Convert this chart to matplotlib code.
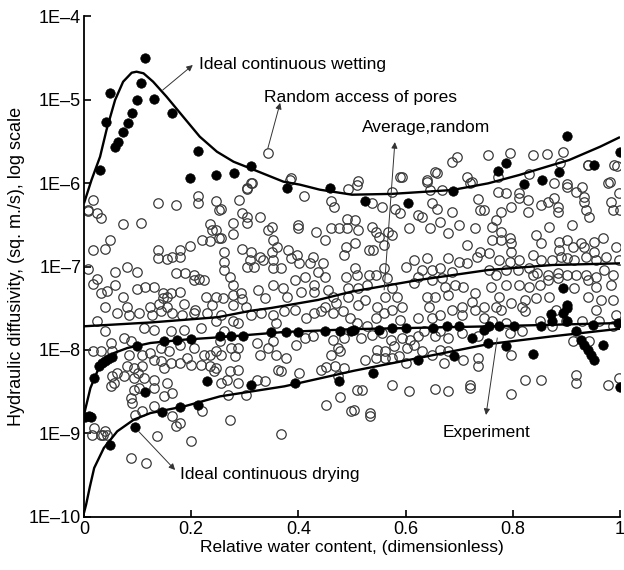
import numpy as np
import matplotlib
matplotlib.use("Agg")
import matplotlib.pyplot as plt
from matplotlib.ticker import FixedLocator, NullLocator

plt.rcParams['font.family'] = ['Liberation Sans', 'DejaVu Sans']

# ---- curves (x, log10 of diffusivity) ----
wet_x = [0, 0.014, 0.030, 0.042, 0.058, 0.073, 0.089, 0.098, 0.111, 0.129, 0.154, 0.185,
         0.216, 0.248, 0.279, 0.310, 0.341, 0.372, 0.403, 0.440, 0.5, 0.575, 0.687, 0.754,
         0.812, 0.874, 0.905, 0.963, 1.0]
wet_log = [-6.243, -5.964, -5.685, -5.365, -5.006, -4.787, -4.679, -4.667, -4.686, -4.787,
           -4.966, -5.206, -5.445, -5.625, -5.745, -5.824, -5.904, -5.984, -6.02, -6.08,
           -6.14, -6.13, -6.084, -6.004, -5.904, -5.784, -5.725, -5.565, -5.45]

avg_x = [0, 0.125, 0.25, 0.311, 0.349, 0.437, 0.5, 0.624, 0.754, 0.874, 1.0]
avg_log = [-7.716, -7.67, -7.607, -7.53, -7.497, -7.40, -7.30, -7.162, -7.042, -6.982, -6.962]

exp_x = [0, 0.012, 0.025, 0.037, 0.056, 0.081, 0.124, 0.187, 0.254, 0.374, 0.504, 0.754, 1.0]
exp_log = [-8.775, -8.455, -8.255, -8.135, -8.036, -7.976, -7.916, -7.876, -7.847, -7.784,
           -7.75, -7.717, -7.677]

dry_x = [0, 0.004, 0.011, 0.019, 0.037, 0.062, 0.093, 0.124, 0.187, 0.254, 0.374, 0.504,
         0.624, 0.754, 0.874, 1.0]
dry_log = [-9.95, -9.85, -9.637, -9.413, -9.174, -8.974, -8.834, -8.755, -8.675, -8.555,
           -8.435, -8.248, -8.096, -7.93, -7.836, -7.745]

# ---- filled (experimental) points ----
fill_x = [0.114, 0.049, 0.041, 0.030, 0.058, 0.064, 0.073, 0.083, 0.090, 0.098, 0.106, 0.131,
          0.164, 0.213, 0.198, 0.246, 0.279, 0.312, 0.378, 0.459, 0.524, 0.605, 0.689, 0.772,
          0.787, 0.820, 0.854, 0.887, 0.902, 0.951, 1.0,
          0.002, 0.009, 0.014, 0.019, 0.028, 0.034, 0.039, 0.045, 0.052, 0.098, 0.149, 0.174,
          0.199, 0.253, 0.274, 0.297, 0.349, 0.377, 0.399, 0.450, 0.478, 0.498,
          0.114, 0.096, 0.049, 0.146, 0.180, 0.213, 0.229, 0.311, 0.394, 0.475,
          0.503, 0.550, 0.575, 0.600, 0.652, 0.677, 0.699, 0.724, 0.746,
          0.540, 0.624, 0.690,
          0.756, 0.775, 0.803, 0.853, 0.874, 0.902, 0.918, 0.949, 0.996,
          0.893, 0.871, 0.902, 0.927, 0.933, 0.940, 0.946, 0.952, 0.968, 0.837, 0.787, 0.753,
          1.0, 0.893, 0.902]
fill_log = [-4.507, -4.926, -5.266, -5.844, -5.565, -5.505, -5.386, -5.286, -5.166, -5.006,
            -4.80, -4.994, -5.166, -5.613, -5.94, -5.904, -5.876, -5.796, -6.063, -6.056,
            -6.216, -6.243, -6.092, -5.853, -5.764, -6.016, -5.964, -5.864, -5.437, -5.784,
            -5.625,
            -8.80, -8.794, -8.80, -8.335, -8.196, -8.16, -8.135, -8.11, -8.088, -7.956, -7.888,
            -7.876, -7.864, -7.836, -7.836, -7.836, -7.79, -7.79, -7.79, -7.77, -7.77, -7.77,
            -8.503, -8.926, -9.14, -8.742, -8.686, -8.655, -8.375, -8.415, -8.395, -8.367,
            -7.756, -7.756, -7.737, -7.737, -7.737, -7.717, -7.717, -7.856, -7.756,
            -8.275, -8.116, -8.076,
            -7.717, -7.717, -7.717, -7.717, -7.657, -7.657, -7.776, -7.697, -7.677,
            -7.557, -7.57, -7.497, -7.876, -7.936, -7.996, -8.056, -8.116, -7.936, -8.048,
            -7.956, -7.916, -8.447, -7.26, -7.46]

# ---- open (random model) points ----
open_x = [
    # region 1
    0.016, 0.007, 0.025, 0.032, 0.073, 0.107, 0.138, 0.172, 0.213, 0.213, 0.246, 0.252, 0.236,
    0.239, 0.246, 0.252, 0.221, 0.236, 0.049, 0.040, 0.017, 0.138, 0.138, 0.154, 0.165, 0.180,
    0.180, 0.197, 0.007, 0.024, 0.017, 0.057, 0.081, 0.098, 0.057, 0.032, 0.042, 0.073, 0.098,
    0.114, 0.131, 0.148, 0.148, 0.163, 0.180, 0.155, 0.172, 0.188, 0.205, 0.215, 0.224, 0.205,
    0.227, 0.246, 0.040, 0.081, 0.124, 0.140, 0.155, 0.187, 0.208, 0.239,
    # region 2
    0.387, 0.410, 0.312, 0.305, 0.289, 0.255, 0.295, 0.305, 0.305, 0.328, 0.278, 0.278, 0.255,
    0.343, 0.351, 0.353, 0.361, 0.399, 0.399, 0.433, 0.450, 0.461, 0.475, 0.491, 0.491, 0.461,
    0.466, 0.493, 0.262, 0.262, 0.262, 0.272, 0.278, 0.295, 0.312, 0.309, 0.328, 0.305, 0.318,
    0.334, 0.350, 0.353, 0.353, 0.368, 0.381, 0.386, 0.398, 0.402, 0.421, 0.427, 0.437, 0.446,
    0.449, 0.412, 0.393, 0.430, 0.353, 0.371, 0.325, 0.278, 0.292, 0.295, 0.337, 0.379, 0.405,
    0.429, 0.455, 0.465, 0.489, 0.493, 0.493, 0.486, 0.489, 0.259, 0.278, 0.303, 0.471, 0.449,
    # region 3
    0.687, 0.659, 0.590, 0.640, 0.715, 0.721, 0.512, 0.509, 0.575, 0.646, 0.668, 0.736, 0.537,
    0.556, 0.581, 0.590, 0.624, 0.631, 0.649, 0.659, 0.665, 0.687, 0.739, 0.746, 0.699, 0.680,
    0.730, 0.606, 0.646, 0.506, 0.512, 0.537, 0.544, 0.568, 0.575, 0.559, 0.550, 0.506, 0.531,
    0.540, 0.715, 0.739, 0.733, 0.615, 0.640, 0.680, 0.699, 0.715, 0.600, 0.631, 0.649, 0.665,
    0.687, 0.559, 0.506, 0.509, 0.531, 0.544, 0.565, 0.528, 0.512, 0.575, 0.615, 0.624, 0.649,
    0.668, 0.674, 0.693, 0.708, 0.730, 0.724, 0.680, 0.655, 0.640, 0.584, 0.562, 0.593, 0.643,
    0.705, 0.525, 0.512, 0.547, 0.746,
    # region 4
    0.772, 0.830, 0.940, 0.989, 0.877, 0.902, 0.902, 0.977, 0.930, 0.918, 0.772, 0.787, 0.812,
    0.812, 0.828, 0.853, 0.865, 0.877, 0.884, 0.884, 0.933, 0.933, 0.937, 0.943, 0.983, 0.986,
    1.0, 0.999, 0.797, 0.778, 0.828, 0.769, 0.762, 0.778, 0.778, 0.762, 0.794, 0.797, 0.797,
    0.868, 0.910, 0.843, 0.853, 0.887, 0.902, 0.912, 0.887, 0.927, 0.933, 0.952, 0.968, 0.952,
    0.993, 0.756, 0.775, 0.794, 0.812, 0.837, 0.853, 0.874, 0.890, 0.902, 0.915, 0.937, 0.955,
    0.974, 0.999, 0.756, 0.769, 0.787, 0.809, 0.831, 0.837, 0.846, 0.865, 0.884, 0.902, 0.918,
    0.937, 0.955, 0.971, 0.986, 0.759, 0.787, 0.812, 0.831, 0.850, 0.865, 0.884, 0.915, 0.940,
    0.955, 0.983, 0.775, 0.797, 0.822, 0.843, 0.868, 0.940, 0.965, 0.986, 0.769, 0.818,
    # region 5
    0.025, 0.040, 0.062, 0.084, 0.103, 0.127, 0.143, 0.165, 0.183, 0.205, 0.230, 0.246, 0.112,
    0.131, 0.162, 0.187, 0.218, 0.050, 0.075, 0.087, 0.016, 0.031, 0.053, 0.084, 0.109, 0.124,
    0.143, 0.159, 0.180, 0.205, 0.224, 0.246, 0.093, 0.109, 0.081, 0.131, 0.143, 0.162, 0.149,
    0.180, 0.193, 0.199, 0.218, 0.236, 0.243, 0.062, 0.053, 0.075, 0.093, 0.100, 0.112, 0.056,
    0.050, 0.131, 0.131, 0.155, 0.149, 0.165, 0.093, 0.103, 0.087, 0.090, 0.019, 0.031, 0.040,
    0.096, 0.109, 0.131, 0.165, 0.171, 0.180, 0.137, 0.221, 0.199, 0.087, 0.115, 0.246, 0.236,
    # region 6
    0.256, 0.278, 0.287, 0.312, 0.331, 0.353, 0.359, 0.374, 0.393, 0.415, 0.430, 0.443, 0.465,
    0.483, 0.496, 0.262, 0.253, 0.275, 0.287, 0.281, 0.322, 0.328, 0.343, 0.353, 0.359, 0.377,
    0.396, 0.412, 0.427, 0.465, 0.486, 0.474, 0.461, 0.477, 0.256, 0.287, 0.272, 0.266, 0.256,
    0.287, 0.303, 0.269, 0.322, 0.337, 0.362, 0.368, 0.402, 0.443, 0.452, 0.468, 0.486, 0.474,
    0.477, 0.452, 0.499, 0.272, 0.368,
    # region 7
    0.509, 0.528, 0.544, 0.559, 0.575, 0.590, 0.624, 0.649, 0.665, 0.687, 0.705, 0.730, 0.746,
    0.516, 0.537, 0.556, 0.572, 0.593, 0.609, 0.624, 0.634, 0.655, 0.665, 0.680, 0.705, 0.736,
    0.547, 0.562, 0.578, 0.587, 0.603, 0.615, 0.631, 0.649, 0.665, 0.680, 0.708, 0.736, 0.736,
    0.671, 0.600, 0.525, 0.544, 0.562, 0.575, 0.509, 0.519, 0.575, 0.606, 0.655, 0.680, 0.721,
    0.721, 0.503, 0.534, 0.534,
    # region 8
    0.778, 0.822, 0.881, 0.955, 0.993, 0.762, 0.787, 0.850, 0.874, 0.899, 0.930, 0.961, 0.986,
    0.794, 0.818, 0.912, 0.943, 0.797, 0.822, 0.853, 0.918, 0.918, 0.977, 0.999, 0.797,
    # top band
    0.343, 0.384, 0.313, 0.304, 0.008, 0.695, 0.754, 0.795, 0.838, 0.863, 0.894, 0.888, 0.940,
    0.994, 0.593, 0.655, 0.640, 0.724, 0.981, 0.015, 0.035, 0.042,
]
open_log = [
    # region 1
    -6.204, -6.332, -6.364, -6.424, -6.491, -6.475, -6.236, -6.264, -6.156, -6.236, -6.212,
    -6.324, -6.491, -6.563, -6.563, -6.663, -6.683, -6.691, -6.683, -6.795, -6.803, -6.803,
    -6.903, -6.911, -6.891, -6.803, -6.883, -6.755, -7.034, -7.154, -7.210, -7.062, -7.002,
    -7.062, -7.222, -7.322, -7.290, -7.370, -7.270, -7.250, -7.242, -7.314, -7.382, -7.314,
    -7.310, -7.370, -7.074, -7.082, -7.102, -7.154, -7.162, -7.162, -7.370, -7.370, -7.482,
    -7.482, -7.482, -7.450, -7.482, -7.450, -7.522, -7.462,
    # region 2
    -5.945, -6.156, -5.996, -6.076, -6.204, -6.316, -6.356, -6.404, -6.484, -6.412, -6.484,
    -6.611, -6.663, -6.563, -6.523, -6.683, -6.771, -6.503, -6.543, -6.583, -6.683, -6.543,
    -6.543, -6.543, -6.436, -6.212, -6.284, -6.076, -6.823, -6.943, -7.042, -7.122, -7.222,
    -6.795, -6.823, -6.923, -6.883, -7.002, -7.002, -6.923, -6.823, -6.923, -7.022, -7.022,
    -6.803, -6.903, -6.863, -6.963, -6.963, -6.883, -7.062, -6.963, -7.122, -7.122, -7.162,
    -7.222, -7.222, -7.262, -7.282, -7.342, -7.322, -7.394, -7.382, -7.362, -7.302, -7.302,
    -7.282, -7.362, -7.122, -7.262, -7.362, -6.863, -6.763, -7.382, -7.462, -7.482, -7.442,
    -7.482,
    # region 3
    -5.745, -5.877, -5.933, -5.965, -5.925, -5.996, -5.972, -6.024, -6.104, -6.084, -6.084,
    -6.196, -6.244, -6.284, -6.316, -6.364, -6.384, -6.404, -6.244, -6.316, -6.464, -6.344,
    -6.324, -6.324, -6.503, -6.595, -6.543, -6.543, -6.543, -6.444, -6.563, -6.523, -6.583,
    -6.583, -6.623, -6.743, -6.651, -6.723, -6.803, -6.803, -6.743, -6.823, -6.883, -6.923,
    -6.903, -6.903, -6.943, -6.963, -7.002, -7.042, -7.042, -7.022, -7.062, -7.022, -7.022,
    -7.102, -7.102, -7.102, -7.142, -7.222, -7.262, -7.262, -7.202, -7.122, -7.162, -7.142,
    -7.242, -7.222, -7.242, -7.322, -7.422, -7.342, -7.362, -7.362, -7.362, -7.362, -7.482,
    -7.482, -7.482, -7.402, -7.462, -7.482, -7.482,
    # region 4
    -5.925, -5.893, -5.785, -5.785, -6.004, -6.012, -6.044, -6.004, -6.052, -6.104, -6.104,
    -6.124, -6.124, -6.184, -6.204, -6.264, -6.224, -6.184, -6.284, -6.344, -6.164, -6.224,
    -6.324, -6.404, -6.224, -6.324, -6.324, -6.124, -6.284, -6.344, -6.344, -6.444, -6.523,
    -6.583, -6.683, -6.683, -6.663, -6.723, -6.823, -6.523, -6.503, -6.623, -6.723, -6.703,
    -6.683, -6.763, -6.803, -6.723, -6.763, -6.703, -6.663, -6.823, -6.763, -6.843, -6.923,
    -6.943, -6.923, -6.863, -6.923, -6.923, -6.883, -6.903, -6.923, -6.883, -6.923, -6.883,
    -6.923, -7.042, -7.102, -7.042, -7.042, -7.022, -7.102, -7.082, -7.102, -7.082, -7.102,
    -7.102, -7.102, -7.122, -7.042, -7.102, -7.242, -7.222, -7.222, -7.242, -7.222, -7.162,
    -7.142, -7.262, -7.162, -7.242, -7.222, -7.362, -7.442, -7.402, -7.382, -7.362, -7.362,
    -7.402, -7.402, -7.482, -7.482,
    # region 5
    -7.649, -7.776, -7.557, -7.577, -7.557, -7.577, -7.537, -7.557, -7.577, -7.557, -7.557,
    -7.657, -7.737, -7.756, -7.776, -7.756, -7.737, -7.916, -7.856, -7.896, -8.016, -8.016,
    -8.016, -8.056, -8.056, -8.036, -7.976, -8.016, -7.936, -7.976, -8.056, -8.016, -8.216,
    -8.196, -8.196, -8.116, -8.136, -8.156, -8.216, -8.156, -8.096, -8.176, -8.176, -8.196,
    -8.256, -8.275, -8.315, -8.315, -8.335, -8.275, -8.335, -8.395, -8.435, -8.355, -8.455,
    -8.395, -8.555, -8.515, -8.475, -8.455, -8.575, -8.635, -8.934, -9.014, -8.974, -8.774,
    -8.735, -8.675, -8.794, -8.914, -8.874, -9.034, -8.735, -9.094, -9.293, -9.353, -8.216,
    -8.056,
    # region 6
    -7.577, -7.657, -7.677, -7.577, -7.557, -7.577, -7.677, -7.537, -7.517, -7.617, -7.557,
    -7.537, -7.557, -7.537, -7.617, -7.776, -7.896, -7.976, -7.976, -8.076, -7.916, -8.056,
    -7.976, -7.896, -8.056, -8.096, -7.936, -7.856, -7.836, -7.876, -7.856, -7.976, -8.056,
    -8.016, -8.056, -8.236, -8.255, -8.355, -8.395, -8.395, -8.535, -8.535, -8.355, -8.375,
    -8.236, -8.255, -8.275, -8.236, -8.208, -8.196, -8.216, -8.315, -8.567, -8.655, -8.735,
    -8.834, -9.006,
    # region 7
    -7.677, -7.717, -7.617, -7.557, -7.517, -7.637, -7.617, -7.617, -7.577, -7.517, -7.577,
    -7.517, -7.617, -7.856, -7.816, -7.796, -7.876, -7.856, -7.876, -7.836, -7.776, -7.836,
    -7.776, -7.856, -7.796, -7.836, -7.996, -8.016, -7.956, -8.076, -7.976, -7.936, -8.016,
    -8.056, -7.996, -8.016, -8.116, -8.096, -8.196, -8.156, -8.156, -8.116, -8.096, -8.096,
    -8.096, -8.475, -8.475, -8.415, -8.487, -8.467, -8.487, -8.415, -8.455, -8.715, -8.754,
    -8.794,
    # region 8
    -7.517, -7.537, -7.517, -7.517, -7.577, -7.657, -7.677, -7.657, -7.717, -7.657, -7.657,
    -7.657, -7.717, -7.796, -7.776, -7.896, -7.896, -8.056, -8.355, -8.355, -8.295, -8.395,
    -8.415, -8.335, -8.527,
    # top band
    -5.64, -5.964, -6.0, -6.06, -6.32, -5.69, -5.66, -5.64, -5.67, -5.65, -5.63, -5.76, -5.78,
    -5.80, -5.93, -5.87, -5.99, -5.99, -5.99, -9.02, -9.02, -9.02,
]

x_ticks = [0, 0.2, 0.4, 0.6, 0.8, 1]
x_tick_labels = ["0", "0.2", "0.4", "0.6", "0.8", "1"]
y_ticks = [1e-10, 1e-9, 1e-8, 1e-7, 1e-6, 1e-5, 1e-4]
y_tick_labels = ["1E\u201310", "1E\u20139", "1E\u20138", "1E\u20137", "1E\u20136", "1E\u20135", "1E\u20134"]


def tv(v):
    return 10.0 ** np.asarray(v, dtype=float)


fig = plt.figure(figsize=(6.24, 5.70), dpi=100)
ax = fig.add_axes([0.1346, 0.0930, 0.8590, 0.8789])
ax.set_yscale('log')
ax.set_xlim(0, 1)
ax.set_ylim(1e-10, 1e-4)

ax.plot(open_x, tv(open_log), linestyle='none', marker='o', markersize=6.8,
        markerfacecolor='none', markeredgecolor='#3a3a3a', markeredgewidth=0.9, zorder=2)
ax.plot(fill_x, tv(fill_log), linestyle='none', marker='o', markersize=6.8,
        markerfacecolor='black', markeredgecolor='black', markeredgewidth=0.5, zorder=3)

for cx, cl in [(wet_x, wet_log), (avg_x, avg_log), (exp_x, exp_log), (dry_x, dry_log)]:
    ax.plot(cx, tv(cl), color='black', linewidth=1.7, zorder=4, solid_capstyle='butt')

for s in ['top', 'right']:
    ax.spines[s].set_visible(False)
for s in ['left', 'bottom']:
    ax.spines[s].set_linewidth(1.3)

ax.xaxis.set_major_locator(FixedLocator(x_ticks))
ax.set_xticklabels(x_tick_labels)
ax.yaxis.set_major_locator(FixedLocator(y_ticks))
ax.yaxis.set_minor_locator(NullLocator())
ax.set_yticklabels(y_tick_labels)
ax.tick_params(axis='both', direction='in', length=5, width=1.2, labelsize=13, pad=3)
ax.tick_params(axis='y', pad=2)

ax.set_xlabel("Relative water content, (dimensionless)", fontsize=12.5, labelpad=1)
ax.set_ylabel("Hydraulic diffusivity, (sq. m./s), log scale", fontsize=13, labelpad=3)

arrow = dict(arrowstyle='-|>', color='#333333', lw=0.7, mutation_scale=9,
             shrinkA=0, shrinkB=0)
fs = 12.5
ax.annotate("", xy=(0.203, 10**-4.587), xytext=(0.147, 10**-4.886), arrowprops=arrow, zorder=5)
ax.text(0.214, 10**-4.575, "Ideal continuous wetting", fontsize=fs, va='center', ha='left')

ax.annotate("", xy=(0.366, 10**-5.04), xytext=(0.343, 10**-5.585), arrowprops=arrow, zorder=5)
ax.text(0.336, 10**-4.97, "Random access of pores", fontsize=fs, va='center', ha='left')

ax.annotate("", xy=(0.580, 10**-5.51), xytext=(0.560, 10**-7.28), arrowprops=arrow, zorder=5)
ax.text(0.519, 10**-5.341, "Average,random", fontsize=fs, va='center', ha='left')

ax.annotate("", xy=(0.750, 10**-8.778), xytext=(0.771, 10**-7.856), arrowprops=arrow, zorder=5)
ax.text(0.670, 10**-8.994, "Experiment", fontsize=fs, va='center', ha='left')

ax.annotate("", xy=(0.170, 10**-9.437), xytext=(0.103, 10**-8.982), arrowprops=arrow, zorder=5)
ax.text(0.179, 10**-9.497, "Ideal continuous drying", fontsize=fs, va='center', ha='left')

fig.savefig("out.png", dpi=100)
